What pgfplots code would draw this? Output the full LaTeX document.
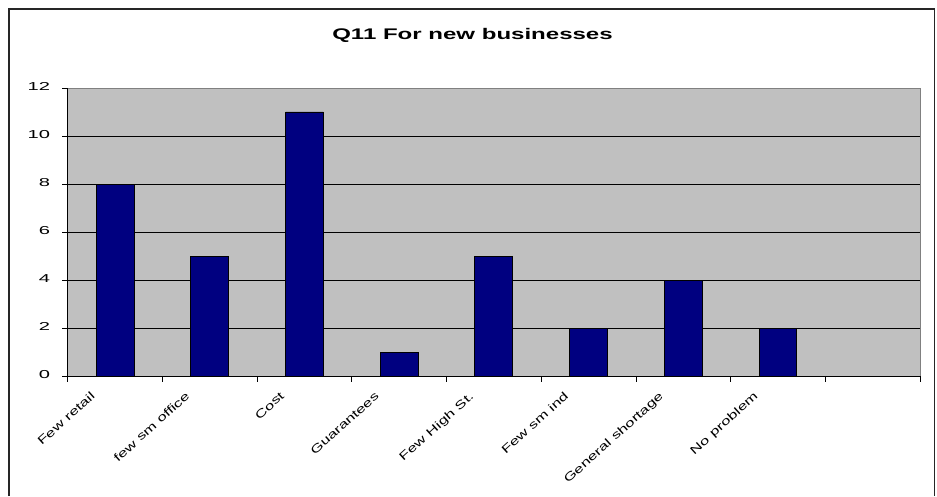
\documentclass[border=0pt]{standalone}
\usepackage{pgfplots}
\pgfplotsset{compat=1.18}
\usepackage{fontspec}
\setmainfont{Liberation Sans}
\newfontfamily\yfont[FakeStretch=1.75]{Liberation Sans}
\newfontfamily\xfont[FakeStretch=1.45]{Liberation Sans}
\newfontfamily\tfont[FakeStretch=1.56]{Liberation Sans}
\definecolor{plotgray}{HTML}{C0C0C0}
\definecolor{navybar}{HTML}{000080}
\definecolor{bordergray}{HTML}{808080}
\begin{document}
\begin{tikzpicture}[x=1pt,y=1pt]
\useasboundingbox (0,0) rectangle (937,496);
\fill[white] (0,0) rectangle (937,496);
\draw[line width=1.3pt, black!85] (9,0) -- (9,487) -- (934.5,487) -- (934.5,0);
\node[anchor=base, inner sep=0pt, font=\tfont\fontsize{15.4}{18}\selectfont\bfseries] at (472.5,456) {Q11 For new businesses};
\begin{axis}[
  at={(67.7pt,120pt)}, anchor=south west,
  scale only axis, width=852.3pt, height=288pt,
  xmin=-0.5, xmax=8.5, ymin=0, ymax=12,
  axis x line=bottom, axis y line=left,
  axis line style={-, black, line width=0.9pt},
  axis background/.style={fill=plotgray, draw=bordergray, line width=0.9pt},
  tick align=outside,
  major tick length=5.5pt, minor tick length=5.5pt,
  ytick={0,2,...,12},
  yticklabels={0,2,4,6,8,10,12},
  minor ytick={2,4,...,10},
  yminorgrids,
  minor grid style={black, line width=0.8pt},
  minor y tick style={draw=none},
  major y tick style={black, line width=0.8pt},
  xtick={0,...,7},
  xticklabels={Few retail, few sm office, Cost, Guarantees, Few High St., Few sm ind, General shortage, No problem},
  major x tick style={draw=none},
  minor xtick={-0.5,0.5,...,8.5},
  minor x tick style={black, line width=0.8pt},
  yticklabel style={font=\yfont\fontsize{11.5}{13}\selectfont, anchor=east, inner sep=0pt, xshift=-12pt, yshift=1.5pt},
  xticklabel style={font=\xfont\fontsize{11.5}{13}\selectfont, xshift=-25pt, yshift=-9.5pt, anchor=north east, inner sep=0pt, rotate=42},
  clip=false,
]
\addplot[ybar, bar width=37.9pt, fill=navybar, draw=black, line width=0.9pt] coordinates {(0,8) (1,5) (2,11) (3,1) (4,5) (5,2) (6,4) (7,2)};
\end{axis}
\end{tikzpicture}
\end{document}
